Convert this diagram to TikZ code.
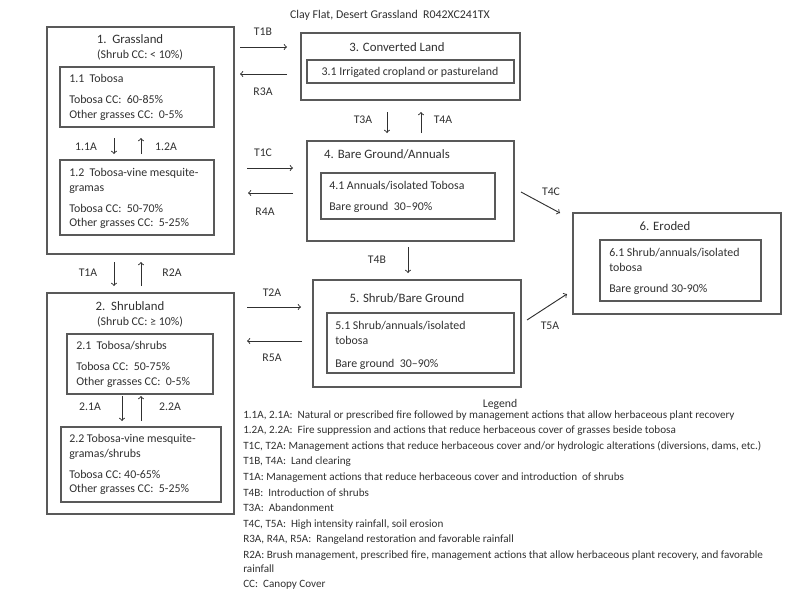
\documentclass[tikz,border=0pt]{standalone}
\usepackage{fontspec}
\setmainfont{Carlito}
\usetikzlibrary{fit}
\definecolor{linegray}{HTML}{595959}
\definecolor{textgray}{HTML}{303030}
\begin{document}
\begin{tikzpicture}[x=0.75pt,y=-0.75pt,>=to,
  box/.style={draw=linegray,line width=1.1pt,inner sep=0pt},
  txt/.style={text=textgray,inner sep=0pt,align=left,font=\fontsize{8.9}{10.9}\selectfont},
  head/.style={text=textgray,inner sep=0pt,font=\fontsize{9.6}{12}\selectfont},
  lab/.style={text=textgray,inner sep=0pt,font=\fontsize{8.8}{10}\selectfont},
  arr/.style={->,draw=textgray,line width=0.7pt}]

\useasboundingbox (0,0) rectangle (800,600);

\node[txt] (title) at (390,15) {Clay Flat, Desert Grassland\ \ R042XC241TX};

% 1. Grassland
\node[box,fit={(47,27) (234,254)}] (grass) {};
\node[head] (grass-hd) at (130,39) {1.\ \ Grassland};
\node[txt] (grass-cc) at (140,55) {(Shrub CC: < 10\%)};
\node[box,fit={(60,67) (214,127)}] (grass11) {};
\node[txt,anchor=north west] (grass11-tx) at (69,74)
  {1.1\ \ Tobosa\\[5pt] Tobosa CC:\ \ 60-85\%\\ Other grasses CC:\ \ 0-5\%};
\node[box,fit={(60,160) (214,235)}] (grass12) {};
\node[txt,anchor=north west] (grass12-tx) at (69,168)
  {1.2\ \ Tobosa-vine mesquite-\\ gramas\\[5pt] Tobosa CC:\ \ 50-70\%\\ Other grasses CC:\ \ 5-25\%};

% 2. Shrubland
\node[box,fit={(47,293) (234,514)}] (shrub) {};
\node[head] (shrub-hd) at (130,306) {2.\ \ Shrubland};
\node[txt] (shrub-cc) at (140,322) {(Shrub CC: ≥ 10\%)};
\node[box,fit={(67,334) (213,394)}] (shrub21) {};
\node[txt,anchor=north west] (shrub21-tx) at (76,341)
  {2.1\ \ Tobosa/shrubs\\[5pt] Tobosa CC:\ \ 50-75\%\\ Other grasses CC:\ \ 0-5\%};
\node[box,fit={(61,427) (221,502)}] (shrub22) {};
\node[txt,anchor=north west] (shrub22-tx) at (69,434)
  {2.2 Tobosa-vine mesquite-\\ gramas/shrubs\\[5pt] Tobosa CC: 40-65\%\\ Other grasses CC:\ \ 5-25\%};

% 3. Converted Land
\node[box,fit={(301,33) (520,100)}] (conv) {};
\node[head] (conv-hd) at (397,47) {3. Converted Land};
\node[box,fit={(307,60) (514,83)}] (conv31) {};
\node[txt] (conv31-tx) at (410,72) {3.1 Irrigated cropland or pastureland};

% 4. Bare Ground/Annuals
\node[box,fit={(307,141) (514,241)}] (bare) {};
\node[head] (bare-hd) at (387,154) {4. Bare Ground/Annuals};
\node[box,fit={(321,173) (495,219)}] (bare41) {};
\node[txt,anchor=north west] (bare41-tx) at (329,181)
  {4.1 Annuals/isolated Tobosa\\[5pt] Bare ground\ \ 30--90\%};

% 5. Shrub/Bare Ground
\node[box,fit={(313,280) (521,387)}] (shbare) {};
\node[head] (shbare-hd) at (407,298) {5. Shrub/Bare Ground};
\node[box,fit={(327,313) (514,373)}] (shbare51) {};
\node[txt,anchor=north west] (shbare51-tx) at (335,321)
  {5.1 Shrub/annuals/isolated\\ tobosa\\[7pt] Bare ground\ \ 30--90\%};

% 6. Eroded
\node[box,fit={(573,213) (781,314)}] (erod) {};
\node[head] (erod-hd) at (665,226) {6. Eroded};
\node[box,fit={(600,240) (761,301)}] (erod61) {};
\node[txt,anchor=north west] (erod61-tx) at (609,248)
  {6.1 Shrub/annuals/isolated\\ tobosa\\[5pt] Bare ground 30-90\%};

% arrow ends
\coordinate (a11a) at (114,138); \coordinate (b11a) at (114,154);
\coordinate (a12a) at (141,154); \coordinate (b12a) at (141,138);
\coordinate (at1a) at (114,262); \coordinate (bt1a) at (114,286);
\coordinate (ar2a) at (141,286); \coordinate (br2a) at (141,262);
\coordinate (a21a) at (122,396); \coordinate (b21a) at (122,421);
\coordinate (a22a) at (141,421); \coordinate (b22a) at (141,396);
\coordinate (at1b) at (240,47);  \coordinate (bt1b) at (287,47);
\coordinate (ar3a) at (287,74);  \coordinate (br3a) at (240,74);
\coordinate (at1c) at (247,168); \coordinate (bt1c) at (293,168);
\coordinate (ar4a) at (293,193); \coordinate (br4a) at (248,193);
\coordinate (at2a) at (247,307); \coordinate (bt2a) at (301,307);
\coordinate (ar5a) at (302,341); \coordinate (br5a) at (247,341);
\coordinate (at3a) at (387,112); \coordinate (bt3a) at (387,133);
\coordinate (at4a) at (421,133); \coordinate (bt4a) at (421,112);
\coordinate (at4b) at (408,247); \coordinate (bt4b) at (408,273);
\coordinate (at4c) at (521,192); \coordinate (bt4c) at (560,213);
\coordinate (at5a) at (527,320); \coordinate (bt5a) at (567,294);

% transitions
\draw[arr] (a11a) -- (b11a);  \draw[arr] (a12a) -- (b12a);
\draw[arr] (at1a) -- (bt1a);  \draw[arr] (ar2a) -- (br2a);
\draw[arr] (a21a) -- (b21a);  \draw[arr] (a22a) -- (b22a);
\draw[arr] (at1b) -- (bt1b);  \draw[arr] (ar3a) -- (br3a);
\draw[arr] (at1c) -- (bt1c);  \draw[arr] (ar4a) -- (br4a);
\draw[arr] (at2a) -- (bt2a);  \draw[arr] (ar5a) -- (br5a);
\draw[arr] (at3a) -- (bt3a);  \draw[arr] (at4a) -- (bt4a);
\draw[arr] (at4b) -- (bt4b);
\draw[arr] (at4c) -- (bt4c);  \draw[arr] (at5a) -- (bt5a);

\node[lab] (l11a) at (86,147) {1.1A};
\node[lab] (l12a) at (166,147) {1.2A};
\node[lab] (lt1a) at (88,273) {T1A};
\node[lab] (lr2a) at (172,273) {R2A};
\node[lab] (l21a) at (90,407) {2.1A};
\node[lab] (l22a) at (170,407) {2.2A};
\node[lab] (lt1b) at (263,32) {T1B};
\node[lab] (lr3a) at (263,92) {R3A};
\node[lab] (lt1c) at (263,153) {T1C};
\node[lab] (lr4a) at (265,212) {R4A};
\node[lab] (lt2a) at (272,293) {T2A};
\node[lab] (lr5a) at (272,358) {R5A};
\node[lab] (lt3a) at (363,120) {T3A};
\node[lab] (lt4a) at (443,120) {T4A};
\node[lab] (lt4b) at (377,260) {T4B};
\node[lab] (lt4c) at (551,192) {T4C};
\node[lab] (lt5a) at (550,326) {T5A};

% legend
\node[lab] (leg-hd) at (500,404) {Legend};
\node[lab,align=left,anchor=north west,font=\fontsize{8.35}{11.7}\selectfont] (leg) at (243,410)
  {1.1A, 2.1A:\ \ Natural or prescribed fire followed by management actions that allow herbaceous plant recovery\\
   1.2A, 2.2A:\ \ Fire suppression and actions that reduce herbaceous cover of grasses beside tobosa\\
   T1C, T2A: Management actions that reduce herbaceous cover and/or hydrologic alterations (diversions, dams, etc.)\\
   T1B, T4A:\ \ Land clearing\\
   T1A: Management actions that reduce herbaceous cover and introduction\ \ of shrubs\\
   T4B:\ \ Introduction of shrubs\\
   T3A:\ \ Abandonment\\
   T4C, T5A:\ \ High intensity rainfall, soil erosion\\
   R3A, R4A, R5A:\ \ Rangeland restoration and favorable rainfall\\
   R2A: Brush management, prescribed fire, management actions that allow herbaceous plant recovery, and favorable\\[-1.5pt]
   rainfall\\
   CC:\ \ Canopy Cover};
\end{tikzpicture}
\end{document}
